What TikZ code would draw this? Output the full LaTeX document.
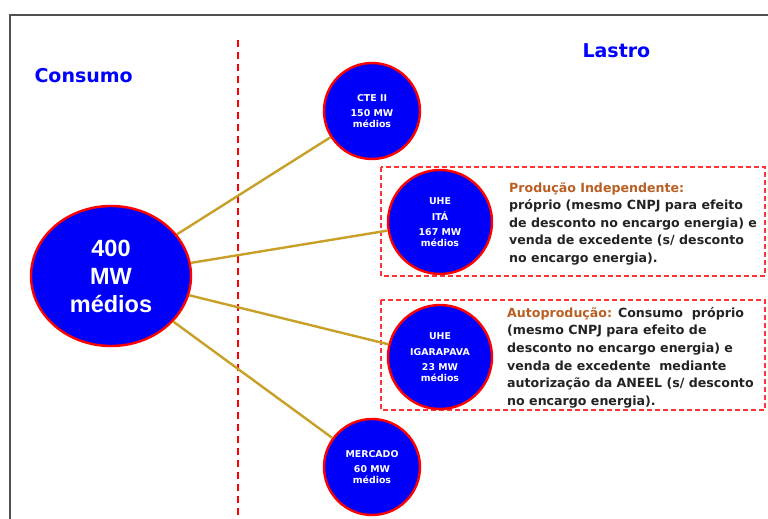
\documentclass[tikz,border=0pt]{standalone}
\usepackage{fontspec}
\setmainfont{DejaVu Sans}
\newfontfamily\arialfont{Liberation Sans}
\usetikzlibrary{shapes.geometric}

\definecolor{discblue}{RGB}{0,0,250}
\definecolor{discred}{RGB}{255,0,0}
\definecolor{linkgold}{RGB}{200,160,40}
\definecolor{headbrown}{RGB}{185,95,35}
\definecolor{framegray}{RGB}{80,80,80}
\definecolor{bodytext}{RGB}{35,35,35}

\begin{document}
\begin{tikzpicture}[
  x=1pt, y=-1pt,
  disc/.style={
    circle, draw=discred, fill=discblue, line width=2.4pt,
    minimum size=96pt, inner sep=0pt, align=center, text=white,
    font=\bfseries\fontsize{9.4}{10.5}\selectfont
  },
  bigdisc/.style={disc, minimum size=104pt},
  link/.style={draw=linkgold, line width=2.4pt},
  note/.style={
    anchor=north west, inner sep=0pt, align=left, text=bodytext,
    font=\bfseries\fontsize{12.6}{17.6}\selectfont
  },
  heading/.style={text=blue, font=\bfseries\fontsize{19}{24}\selectfont},
  splitline/.style={draw=discred, dashed, line width=1.4pt, dash pattern=on 7pt off 5pt},
  notebox/.style={draw=discred!80, line width=1.2pt, dash pattern=on 5pt off 3pt},
]
\useasboundingbox (0,0) rectangle (768,519);

% page frame
\draw[framegray, line width=2pt] (768,15) -- (10,15) -- (10,519);

% divider between the two sides
\draw[splitline] (238,40) -- (238,519);

\node[heading, anchor=base west] (consumo) at (31,82) {Consumo};
\node[heading, anchor=base west] (lastro) at (579,58) {Lastro};

% dashed frames round the two generation notes
\draw[notebox] (381,167) rectangle (765,276);
\draw[notebox] (381,300) rectangle (765,410);

% demand
\node[ellipse, draw=discred, fill=discblue, line width=2.4pt,
      minimum width=160pt, minimum height=140pt, inner sep=0pt,
      align=center, text=white,
      font=\arialfont\bfseries\fontsize{23.5}{28}\selectfont]
  (total) at (111,276) {400\\MW\\médios};

% supply
\node[disc]    (cte)       at (372,111) {CTE II\\[5pt]150 MW\\médios};
\node[bigdisc] (ita)       at (440,222) {UHE\\[5pt]ITÁ\\[5pt]167 MW\\médios};
\node[bigdisc] (igarapava) at (440,357) {UHE\\[5pt]IGARAPAVA\\[5pt]23 MW\\médios};
\node[disc]    (mercado)   at (372,467) {MERCADO\\[5pt]60 MW\\médios};

\draw[link] (total) -- (cte);
\draw[link] (total) -- (ita);
\draw[link] (total) -- (igarapava);
\draw[link] (total) -- (mercado);

\node[note] (indep) at (509,182) {%
  {\color{headbrown}Produção Independente:}\\
  próprio (mesmo CNPJ para efeito\\
  de desconto no encargo energia) e\\
  venda de excedente (s/ desconto\\
  no encargo energia).};

\node[note] (auto) at (507,307) {%
  {\color{headbrown}Autoprodução:} Consumo\ \ próprio\\
  (mesmo CNPJ para efeito de\\
  desconto no encargo energia) e\\
  venda de excedente\ \ mediante\\
  autorização da ANEEL (s/ desconto\\
  no encargo energia).};

\end{tikzpicture}
\end{document}
